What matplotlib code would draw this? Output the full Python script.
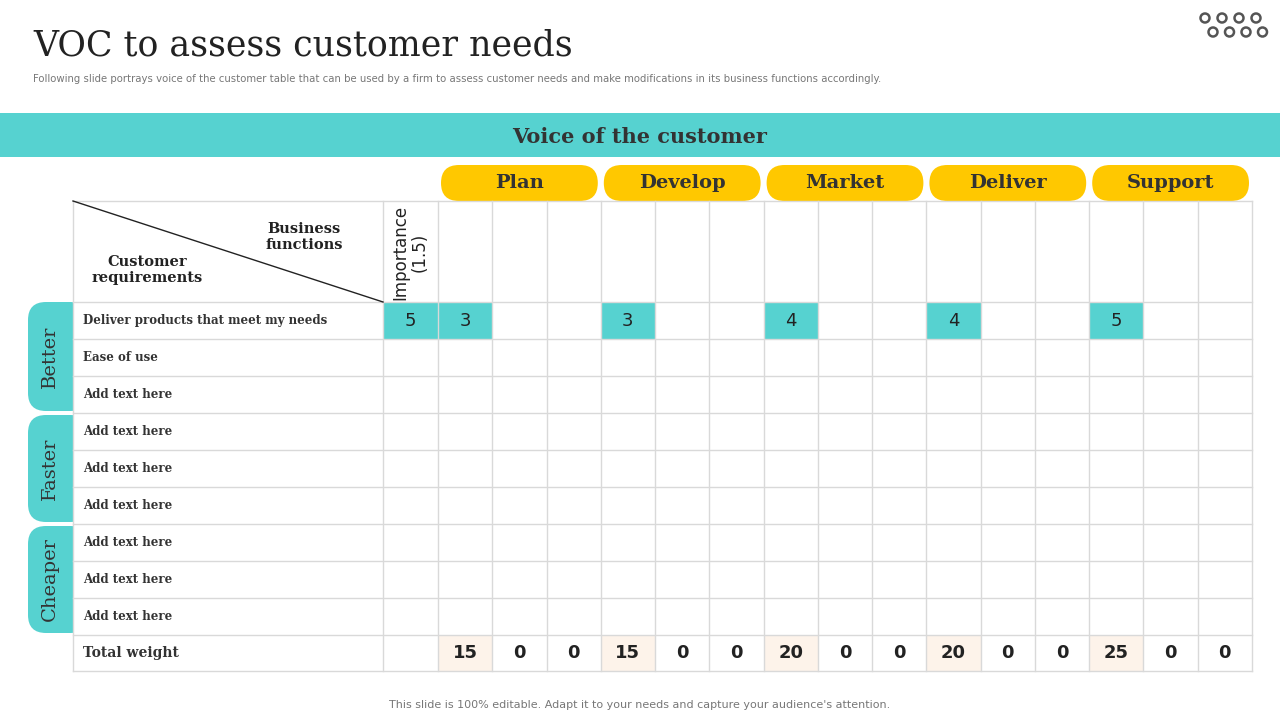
import matplotlib
matplotlib.use("Agg")
import matplotlib.pyplot as plt
from matplotlib.patches import Rectangle, FancyBboxPatch

# data
functions = ["Plan", "Develop", "Market", "Deliver", "Support"]
groups = ["Better", "Faster", "Cheaper"]
requirements = ["Deliver products that meet my needs", "Ease of use", "Add text here",
                "Add text here", "Add text here", "Add text here",
                "Add text here", "Add text here", "Add text here"]
importance = [5, None, None, None, None, None, None, None, None]
# first-row scores across 15 sub-columns (None = empty)
row1_scores = [3, None, None, 3, None, None, 4, None, None, 4, None, None, 5, None, None]
totals = [15, 0, 0, 15, 0, 0, 20, 0, 0, 20, 0, 0, 25, 0, 0]

TEAL = "#56D2D0"
YELLOW = "#FFC800"
PEACH = "#FDF3EA"
GRID = "#D9D9D9"
DARK = "#333333"
SERIF = "DejaVu Serif"

fig = plt.figure(figsize=(12.8, 7.2), dpi=100)
ax = fig.add_axes([0, 0, 1, 1])
ax.set_xlim(0, 1280)
ax.set_ylim(720, 0)
ax.axis("off")

ax.text(33, 45, "VOC to assess customer needs", fontsize=25, family=SERIF, color="#222222", va="center")
ax.text(33, 79, "Following slide portrays voice of the customer table that can be used by a firm to assess customer needs "
        "and make modifications in its business functions accordingly.", fontsize=7.3, color="#777777", va="center")

# dots icon
for i in range(4):
    ax.add_patch(plt.Circle((1205 + i * 17, 18), 4.5, fill=False, ec="#555555", lw=1.8))
    ax.add_patch(plt.Circle((1213 + i * 16.5, 32), 4.5, fill=False, ec="#555555", lw=1.8))

ax.add_patch(Rectangle((0, 113), 1280, 44, color=TEAL, lw=0))
ax.text(640, 137, "Voice of the customer", fontsize=15, family=SERIF, fontweight="bold", color="#333333",
        ha="center", va="center")

# grid geometry
x0, x_imp, x_c0, x_end = 73, 383, 438, 1252
cw = (x_end - x_c0) / 15
y_h, y_r0, rh = 201, 302, 37
y_tot = y_r0 + 9 * rh
y_end = y_tot + 36

# function pills
for i, f in enumerate(functions):
    xa = x_c0 + i * 3 * cw + 3
    xb = x_c0 + (i + 1) * 3 * cw - 3
    ax.add_patch(FancyBboxPatch((xa + 18, 165), xb - xa - 36, 36,
                                boxstyle="round,pad=0,rounding_size=18", fc=YELLOW, ec="none",
                                mutation_aspect=1))
    ax.add_patch(FancyBboxPatch((xa, 165), xb - xa, 36, boxstyle="round,pad=0,rounding_size=18",
                                fc=YELLOW, ec="none"))
    ax.text((xa + xb) / 2, 183, f, fontsize=14, family=SERIF, fontweight="bold", color="#333333",
            ha="center", va="center")

# cell fills
for j, v in enumerate(row1_scores):
    if v is not None:
        ax.add_patch(Rectangle((x_c0 + j * cw, y_r0), cw, rh, color=TEAL, lw=0))
        ax.text(x_c0 + (j + .5) * cw, y_r0 + rh / 2, str(v), fontsize=13, ha="center", va="center", color="#222222")
for r, v in enumerate(importance):
    if v is not None:
        ax.add_patch(Rectangle((x_imp, y_r0 + r * rh), x_c0 - x_imp, rh, color=TEAL, lw=0))
        ax.text((x_imp + x_c0) / 2, y_r0 + (r + .5) * rh, str(v), fontsize=13, ha="center", va="center", color="#222222")
for j, v in enumerate(totals):
    if v > 0:
        ax.add_patch(Rectangle((x_c0 + j * cw, y_tot), cw, y_end - y_tot, color=PEACH, lw=0))
    ax.text(x_c0 + (j + .5) * cw, (y_tot + y_end) / 2, str(v), fontsize=13, fontweight="bold",
            ha="center", va="center", color="#222222")

# grid lines
ys = [y_h, y_r0] + [y_r0 + k * rh for k in range(1, 10)] + [y_end]
for y in ys:
    ax.plot([x0, x_end], [y, y], color=GRID, lw=1)
for x in [x0, x_imp] + [x_c0 + k * cw for k in range(16)]:
    ax.plot([x, x], [y_h, y_end], color=GRID, lw=1)

ax.plot([x0, x_imp], [y_h, y_r0], color="#222222", lw=1)
ax.text(304, 237, "Business\nfunctions", fontsize=10.5, family=SERIF, fontweight="bold", ha="center", va="center",
        color="#222222", linespacing=1.1)
ax.text(147, 270, "Customer\nrequirements", fontsize=10.5, family=SERIF, fontweight="bold", ha="center", va="center",
        color="#222222", linespacing=1.1)
ax.text(410, 252, "Importance\n(1.5)", fontsize=12, rotation=90, ha="center", va="center", color="#222222",
        linespacing=1.1)

for r, t in enumerate(requirements):
    ax.text(83, y_r0 + (r + .5) * rh, t, fontsize=8.5, family=SERIF, fontweight="bold", va="center", color=DARK)
ax.text(83, (y_tot + y_end) / 2, "Total weight", fontsize=10, family=SERIF, fontweight="bold", va="center", color=DARK)

# group tabs
for g, name in enumerate(groups):
    ya = y_r0 + g * 3 * rh + (0 if g == 0 else 2)
    yb = y_r0 + (g + 1) * 3 * rh - 2
    ax.add_patch(FancyBboxPatch((28, ya), 60, yb - ya, boxstyle="round,pad=0,rounding_size=18",
                                fc=TEAL, ec="none"))
    ax.add_patch(Rectangle((73, ya), 20, yb - ya, fc="white", ec="none"))
    ax.text(50, (ya + yb) / 2, name, fontsize=14, family=SERIF, rotation=90, ha="center", va="center",
            color="#333333")

ax.text(640, 705, "This slide is 100% editable. Adapt it to your needs and capture your audience's attention.",
        fontsize=8, color="#777777", ha="center", va="center")

fig.savefig("out.png", dpi=100)
